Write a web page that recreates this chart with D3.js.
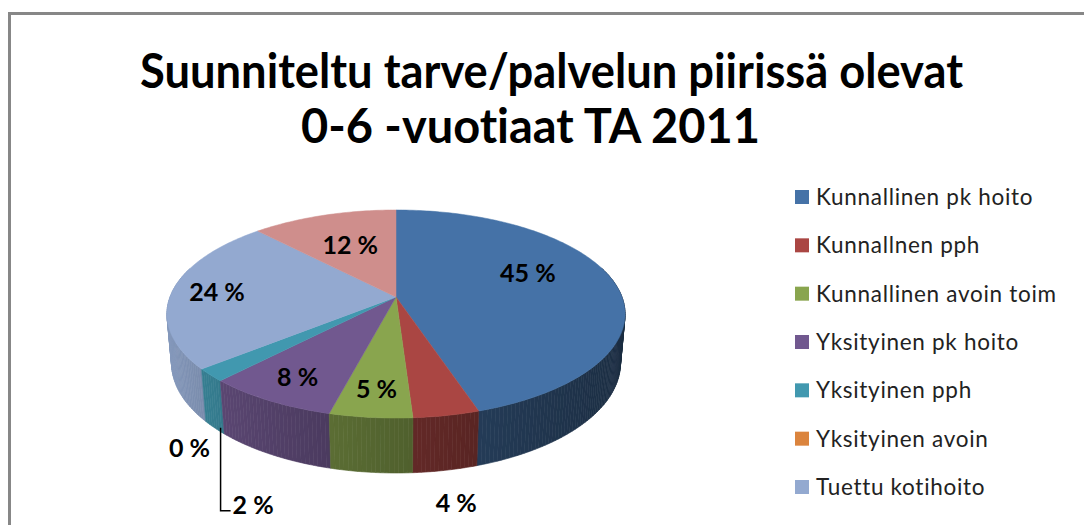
<!DOCTYPE html>
<html>
<head>
<meta charset="utf-8">
<script src="https://cdn.jsdelivr.net/npm/d3@7"></script>
<style>
  body { margin: 0; background: #fff; }
  svg { display: block; }
  text { font-variant-ligatures: none; }
</style>
</head>
<body>
<div id="chart-area"></div>
<script>

// data
let categories = ["Kunnallinen pk hoito", "Kunnallnen pph", "Kunnallinen avoin toim",
    "Yksityinen pk hoito", "Yksityinen pph", "Yksityinen avoin", "Tuettu kotihoito"]
// the 8th (pink) slice has no visible legend entry in the picture
let values = [45, 4, 5, 8, 2, 0, 24, 12]
let colors = ["#4572A7", "#AA4643", "#89A54E", "#71588F", "#4198AF", "#DB843D", "#93A9D0", "#CF8E8C"]
let titleLines = ["Suunniteltu tarve/palvelun piirissä olevat", "0-6 -vuotiaat TA 2011"]

let width = 1084, height = 525

let svg = d3.select("#chart-area").append("svg")
    .attr("width", width)
    .attr("height", height)

// chart border (runs off the right and bottom of the picture)
svg.append("rect")
    .attr("x", 9.5).attr("y", 13.5)
    .attr("width", 2000).attr("height", 2000)
    .attr("fill", "none")
    .attr("stroke", "#878787")
    .attr("stroke-width", 3)

// title
let titleFont = "Lato, 'Open Sans', sans-serif"
let titleBoxes = [{x: 140, y: 88, len: 823}, {x: 301, y: 143, len: 459}]
svg.selectAll(".title").data(titleLines)
    .enter().append("text")
    .attr("class", "title")
    .attr("x", (d, i) => titleBoxes[i].x)
    .attr("y", (d, i) => titleBoxes[i].y)
    .attr("textLength", (d, i) => titleBoxes[i].len)
    .attr("lengthAdjust", "spacingAndGlyphs")
    .style("font-family", titleFont)
    .style("font-weight", "bold")
    .style("font-size", "47px")
    .attr("fill", "#000")
    .text(d => d)

// perspective pie: a disc seen from above at an angle
let cx = 396, cy = 297
let camDist = 5.467, focal = 1235.6, tiltSin = 0.448, tiltCos = 0.894, thick = 0.245

function proj(phi, r, y) {
    let X = r * Math.sin(phi)
    let Z = -r * Math.cos(phi)      // positive = toward viewer
    let u = Z * tiltSin + y * tiltCos
    let w = camDist - Z * tiltCos + y * tiltSin
    return [cx + focal * X / w, cy + focal * u / w]
}

let pie = d3.pie().sort(null).startAngle(0).endAngle(2 * Math.PI)
let arcs = pie(values)
arcs.forEach((a, i) => { a.color = colors[i]; a.index = i })

// side wall, cut in small pieces so the shading can change along it
let step = Math.PI / 180
let sidePieces = []
arcs.forEach(a => {
    if (a.endAngle - a.startAngle <= 0) return
    let n = Math.max(1, Math.ceil((a.endAngle - a.startAngle) / step))
    for (let k = 0; k < n; k++) {
        let p0 = a.startAngle + (a.endAngle - a.startAngle) * k / n
        let p1 = a.startAngle + (a.endAngle - a.startAngle) * (k + 1) / n
        let mid = (p0 + p1) / 2
        if (-Math.cos(mid) < -0.3) continue      // back wall, hidden by the top
        sidePieces.push({a: a, p0: p0, p1: p1, z: -Math.cos(mid), x: Math.sin(mid)})
    }
})
sidePieces.sort((m, n) => m.z - n.z)

let line = d3.line()

svg.append("g").selectAll("path")
    .data(sidePieces)
    .enter().append("path")
    .attr("d", d => line([proj(d.p0, 1, 0), proj(d.p1, 1, 0), proj(d.p1, 1, thick), proj(d.p0, 1, thick)]) + "Z")
    .attr("fill", d => d3.rgb(d.a.color).darker(1.45 + 1.2 * d.x))
    .attr("stroke", d => d3.rgb(d.a.color).darker(1.45 + 1.2 * d.x))
    .attr("stroke-width", 0.6)

// top faces
function topPath(a) {
    let pts = [proj(0, 0, 0)]
    let n = Math.max(1, Math.ceil((a.endAngle - a.startAngle) / step))
    for (let k = 0; k <= n; k++) {
        pts.push(proj(a.startAngle + (a.endAngle - a.startAngle) * k / n, 1, 0))
    }
    return line(pts) + "Z"
}

svg.append("g").selectAll("path")
    .data(arcs.filter(a => a.value > 0))
    .enter().append("path")
    .attr("d", topPath)
    .attr("fill", d => d.color)
    .attr("stroke", d => d.color)
    .attr("stroke-width", 0.5)

// data labels
let labelFont = "Lato, 'Open Sans', sans-serif"
let labels = arcs.map(a => {
    let mid = (a.startAngle + a.endAngle) / 2
    let outside = a.value < 5
    let pos, rim
    if (outside) {
        pos = proj(mid, 1.1, thick)
        pos[0] += 5
        pos[1] += 18
        rim = proj(mid, 1, thick)
    } else {
        let r = (a.value > 30 || Math.cos(mid) > 0.8) ? 0.6 : 0.8
        pos = proj(mid, r, 0)
        if (a.value > 30) pos[1] -= 14
    }
    return {a: a, x: pos[0], y: pos[1], outside: outside, rim: rim, leader: false}
})

// outside labels that bump into each other: move down with a leader line
let placed = []
labels.slice().reverse().forEach(l => {
    if (!l.outside) return
    let hit = placed.some(p => Math.abs(p.x - l.x) < 40 && Math.abs(p.y - l.y) < 25)
    if (hit) {
        l.leader = true
        l.x = l.rim[0] + 18
        l.y = l.rim[1] + 77
    }
    placed.push(l)
})

svg.append("g").selectAll("path")
    .data(labels.filter(l => l.leader))
    .enter().append("path")
    .attr("d", l => line([[l.rim[0] + 6, l.rim[1]], [l.rim[0] + 6, l.y + 6], [l.x - 2, l.y + 6]]))
    .attr("fill", "none")
    .attr("stroke", "#000")
    .attr("stroke-width", 1.5)

svg.append("g").selectAll("text")
    .data(labels)
    .enter().append("text")
    .attr("x", l => l.x)
    .attr("y", l => l.y)
    .attr("dy", "0.35em")
    .attr("text-anchor", l => l.leader ? "start" : "middle")
    .style("font-family", labelFont)
    .style("font-weight", "bold")
    .style("font-size", "25px")
    .attr("fill", "#000")
    .text(l => l.a.value + " %")

// legend
let legendY = d3.scalePoint().domain(categories).range([197, 487])

let legend = svg.append("g").selectAll("g")
    .data(categories)
    .enter().append("g")
    .attr("transform", d => "translate(795," + legendY(d) + ")")

legend.append("rect")
    .attr("x", 0).attr("y", -7)
    .attr("width", 14).attr("height", 14)
    .attr("fill", (d, i) => colors[i])

legend.append("text")
    .attr("x", 21)
    .attr("dy", "0.35em")
    .style("font-family", labelFont)
    .style("font-size", "22.5px")
    .style("letter-spacing", "0.7px")
    .attr("fill", "#222")
    .text(d => d)

</script>
</body>
</html>
